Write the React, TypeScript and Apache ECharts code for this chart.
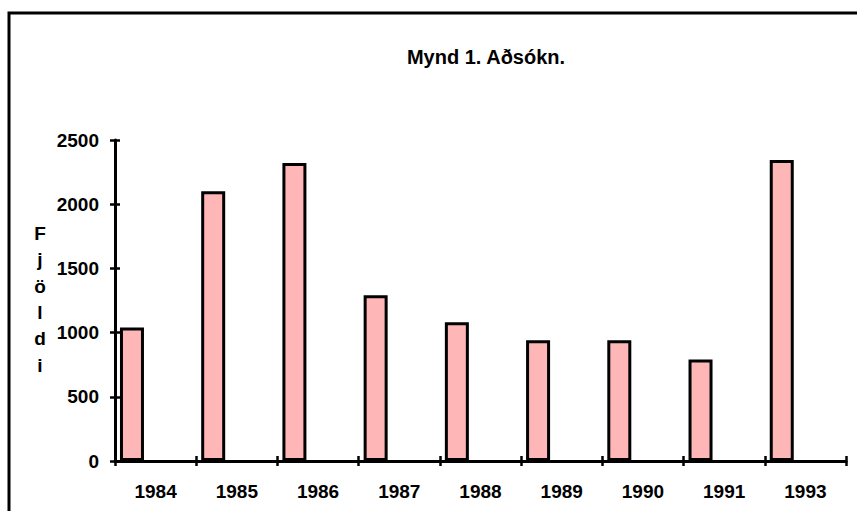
import React, { useEffect, useRef } from "react";
import * as echarts from "echarts";

const categories = ["1984", "1985", "1986", "1987", "1988", "1989", "1990", "1991", "1993"];
const attendance = [1040, 2100, 2320, 1290, 1080, 940, 940, 790, 2345];
const yTicks = [0, 500, 1000, 1500, 2000, 2500];
const titleText = "Mynd 1. Aðsókn.";
const yName = "Fjöldi";

export default function App() {
  const ref = useRef<HTMLDivElement>(null);
  useEffect(() => {
    if (!ref.current) return;
    const chart = echarts.init(ref.current, undefined, { renderer: "svg" });
    const font = "Liberation Sans, Arial, sans-serif";
    const yMax = yTicks[yTicks.length - 1];
    const yStep = yTicks[1] - yTicks[0];
    chart.setOption({
      animation: false,
      backgroundColor: "#ffffff",
      title: {
        text: titleText,
        left: 481,
        top: 42,
        textAlign: "center",
        textStyle: { fontFamily: font, fontSize: 20, fontWeight: "bold", color: "#000" },
      },
      graphic: [
        {
          type: "rect",
          shape: { x: 9, y: 13, width: 870, height: 520 },
          style: { fill: "none", stroke: "#000", lineWidth: 3 },
          silent: true,
        },
        {
          type: "text",
          x: 40,
          y: 220,
          style: {
            text: yName.split("").join("\n"),
            font: "bold 19px " + font,
            lineHeight: 26.4,
            fill: "#000",
            align: "center",
          },
        },
      ],
      grid: { left: 115, right: 11, top: 140, bottom: 50, containLabel: false },
      xAxis: [
        {
          type: "category",
          data: categories,
          boundaryGap: true,
          axisLine: { lineStyle: { color: "#000", width: 3 } },
          axisTick: { show: true, length: 5, lineStyle: { color: "#000", width: 2.5 } },
          axisLabel: {
            margin: 21,
            fontFamily: font,
            fontSize: 19,
            fontWeight: "bold",
            color: "#000",
          },
          splitLine: { show: false },
        },
        {
          type: "category",
          data: categories,
          position: "bottom",
          boundaryGap: true,
          axisLine: { show: false },
          axisTick: { show: true, inside: true, length: 5, lineStyle: { color: "#000", width: 2.5 } },
          axisLabel: { show: false },
          splitLine: { show: false },
        },
      ],
      yAxis: [
        {
          type: "value",
          min: 0,
          max: yMax,
          interval: yStep,
          axisLine: { show: true, lineStyle: { color: "#000", width: 3 } },
          axisTick: { show: true, length: 5, lineStyle: { color: "#000", width: 2.5 } },
          axisLabel: {
            margin: 16,
            fontFamily: font,
            fontSize: 19,
            fontWeight: "bold",
            color: "#000",
            formatter: (v: number) => String(v),
          },
          splitLine: { show: false },
        },
        {
          type: "value",
          min: 0,
          max: yMax,
          interval: yStep,
          position: "left",
          axisLine: { show: false },
          axisTick: { show: true, inside: true, length: 5, lineStyle: { color: "#000", width: 2.5 } },
          axisLabel: { show: false },
          splitLine: { show: false },
        },
      ],
      series: [
        {
          type: "bar",
          data: attendance,
          barWidth: 24,
          barGap: "97%",
          itemStyle: { color: "#ffb6b6", borderColor: "#000", borderWidth: 3 },
        },
        {
          type: "bar",
          data: categories.map(() => null),
          barWidth: 24,
          itemStyle: { color: "#ffb6b6" },
        },
      ],
    });
    return () => chart.dispose();
  }, []);
  return (
    <div
      ref={ref}
      style={{ position: "fixed", left: 0, top: 0, width: 857, height: 511 }}
    />
  );
}
